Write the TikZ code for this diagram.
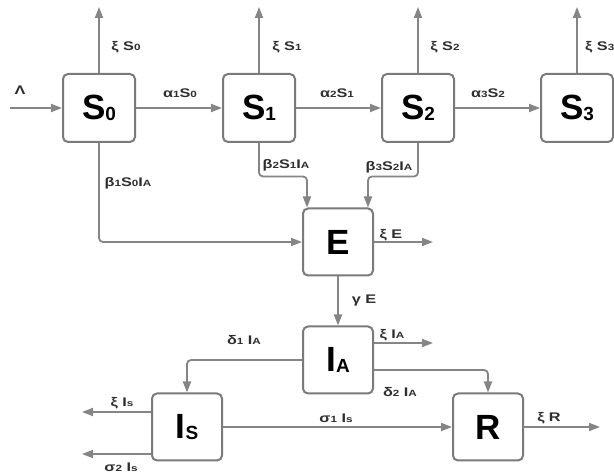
\documentclass[tikz,border=0pt]{standalone}
\usepackage{fontspec}
\setmainfont{Liberation Sans}
\newfontfamily\labfont[FakeStretch=1.3]{Liberation Sans}
\usetikzlibrary{arrows.meta,calc}
\definecolor{linegray}{HTML}{858585}
\definecolor{boxgray}{HTML}{7A7A7A}
\definecolor{labgray}{HTML}{2E2E2E}
\newcommand{\lsb}[1]{{\fontsize{9}{9}\selectfont #1}}
\newcommand{\bsb}[1]{\raisebox{-1pt}{\fontsize{19}{19}\selectfont #1}}
\begin{document}
\begin{tikzpicture}[x=1pt,y=-1pt,
  box/.style={draw=boxgray,line width=2pt,rounded corners=5pt,fill=white,
    minimum width=72pt,minimum height=68pt,inner sep=0pt,
    font=\fontsize{35}{35}\selectfont\bfseries,text=black},
  arr/.style={draw=linegray,line width=1.8pt,rounded corners=4pt,
    -{Triangle[length=11pt,width=8pt]}},
  lab/.style={font=\labfont\fontsize{12.5}{12.5}\selectfont\bfseries,text=labgray,inner sep=0pt}]
\useasboundingbox[fill=white] (0,0) rectangle (614,473);
% boxes
\node[box] (S0) at (99,108) {S\bsb{0}};
\node[box] (S1) at (259,108) {S\bsb{1}};
\node[box] (S2) at (418,108) {S\bsb{2}};
\node[box] (S3) at (577,108) {S\bsb{3}};
\node[box,minimum width=70pt,minimum height=67pt] (E) at (338,242) {E};
\node[box,minimum width=70pt,minimum height=67pt] (IA) at (338,360) {I\bsb{A}};
\node[box,minimum width=70pt,minimum height=67pt] (IS) at (187,427) {I\bsb{S}};
\node[box,minimum width=70pt,minimum height=67pt] (R) at (488,427) {R};
% free ends
\coordinate (u0) at (99,7);
\coordinate (u1) at (259,7);
\coordinate (u2) at (418,7);
\coordinate (u3) at (577,7);
\coordinate (lam) at (10,108);
\coordinate (xe) at (433,242);
\coordinate (xia) at (433,343);
\coordinate (xis) at (82,412);
\coordinate (sis) at (82,454);
\coordinate (xr) at (600,427);
% connectors
\draw[arr] (S0.north) -- (u0);
\draw[arr] (S1.north) -- (u1);
\draw[arr] (S2.north) -- (u2);
\draw[arr] (S3.north) -- (u3);
\draw[arr] (lam) -- (S0.west);
\draw[arr] (S0) -- (S1);
\draw[arr] (S1) -- (S2);
\draw[arr] (S2) -- (S3);
\draw[arr] (S0.south) |- (E.west);
\draw[arr] (S1.south) |- ([xshift=-31pt,yshift=31pt]E.north) -- ([xshift=-31pt]E.north);
\draw[arr] (S2.south) |- ([xshift=30pt,yshift=31pt]E.north) -- ([xshift=30pt]E.north);
\draw[arr] (E.east) -- (xe);
\draw[arr] (E) -- (IA);
\draw[arr] ([yshift=17pt]IA.east) -- (xia);
\draw[arr] ([yshift=-10pt]IA.east) -| (R.north);
\draw[arr] (IA.west) -| (IS.north);
\draw[arr] ([yshift=15pt]IS.west) -- (xis);
\draw[arr] ([yshift=-27pt]IS.west) -- (sis);
\draw[arr] (IS.east) -- (R.west);
\draw[arr] (R.east) -- (xr);
% labels
\node[lab] (l0) at (126,47) {ξ S\lsb{0}};
\node[lab] (l1) at (287,47) {ξ S\lsb{1}};
\node[lab] (l2) at (445,47) {ξ S\lsb{2}};
\node[lab,anchor=west] (l3) at (585,47) {ξ S\lsb{3}};
\node[lab] (lL) at (20,90) {Λ};
\node[lab] (a1) at (180,93) {α\lsb{1}S\lsb{0}};
\node[lab] (a2) at (337,93) {α\lsb{2}S\lsb{1}};
\node[lab] (a3) at (488,93) {α\lsb{3}S\lsb{2}};
\node[lab] (b1) at (128,183) {β\lsb{1}S\lsb{0}I\lsb{A}};
\node[lab] (b2) at (286,165) {β\lsb{2}S\lsb{1}I\lsb{A}};
\node[lab] (b3) at (389,167) {β\lsb{3}S\lsb{2}I\lsb{A}};
\node[lab] (le) at (391,235) {ξ E};
\node[lab] (lg) at (364,300) {γ E};
\node[lab] (lia) at (392,335) {ξ I\lsb{A}};
\node[lab] (ld2) at (400,392) {δ\lsb{2} I\lsb{A}};
\node[lab] (ld1) at (244,340) {δ\lsb{1} I\lsb{A}};
\node[lab] (lis) at (122,403) {ξ I\lsb{s}};
\node[lab] (ls2) at (121,467) {σ\lsb{2} I\lsb{s}};
\node[lab] (ls1) at (336,418) {σ\lsb{1} I\lsb{s}};
\node[lab] (lr) at (549,418) {ξ R};
\end{tikzpicture}
\end{document}
